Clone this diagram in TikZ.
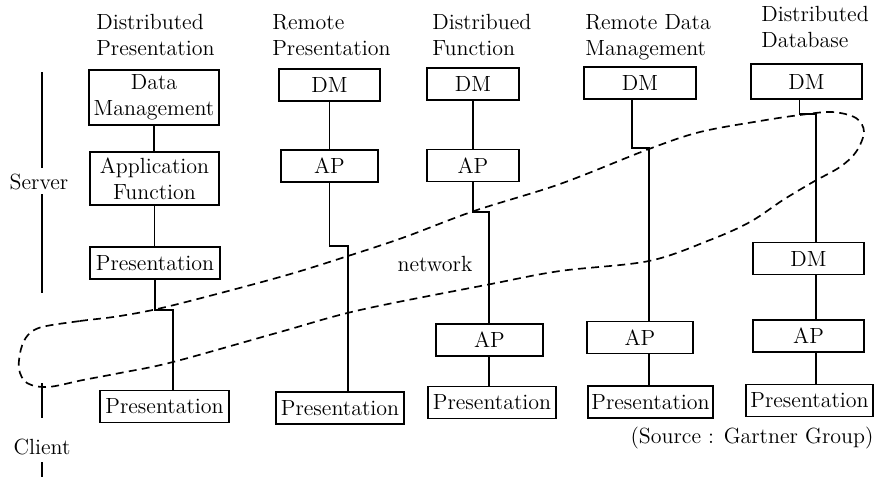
\documentclass[tikz,border=0pt]{standalone}
\usepackage{tikz}
\usetikzlibrary{calc}
\newcommand{\txtsize}{\fontsize{12.5}{15}\selectfont}
\tikzset{
	box/.style={draw, line width=0.95pt, minimum height=0.64cm, inner sep=1pt, font=\txtsize},
	link/.style={line width=0.85pt},
	net/.style={line width=0.95pt, dash pattern=on 4.5pt off 3pt},
	head/.style={anchor=north west, align=left, inner sep=0pt, font=\txtsize},
	lbl/.style={font=\txtsize}
}

\begin{document}
\begin{tikzpicture}[x=0.02cm, y=-0.02cm]
			%%%%% START %%%%%
			\useasboundingbox (0,0) rectangle (877,477);
			
			% headings
			\node[head] (h1) at (96,14) {Distributed\\Presentation};
			\node[head] (h2) at (272,14) {Remote\\Presentation};
			\node[head] (h3) at (432,14) {Distribued\\Function};
			\node[head] (h4) at (585,14) {Remote Data\\Management};
			\node[head] (h5) at (761,6) {Distributed\\Database};
			
			% distributed presentation
			\node[box, minimum width=2.6cm, minimum height=1.1cm, align=center] (dm1) at (154,97.5) {Data\\Management};
			\node[box, minimum width=2.58cm, minimum height=1.06cm, align=center] (af1) at (154.5,178.5) {Application\\Function};
			\node[box, minimum width=2.6cm] (pr1) at (155,263) {Presentation};
			\node[box, minimum width=2.58cm] (pc1) at (164.5,406.5) {Presentation};
			\coordinate (j1) at (173,310);
			\draw[link] (dm1.south) -- (dm1.south |- af1.north);
			\draw[link] (af1.south) -- (af1.south |- pr1.north);
			\draw[link] (pr1.south) |- (j1) -- (j1 |- pc1.north);
			
			% remote presentation
			\node[box, minimum width=2.02cm] (dm2) at (329.5,85) {DM};
			\node[box, minimum width=1.94cm] (ap2) at (329.5,166) {AP};
			\node[box, minimum width=2.56cm] (pc2) at (340,408) {Presentation};
			\coordinate (j2) at (348,246);
			\draw[link] (dm2.south) -- (ap2.north);
			\draw[link] (ap2.south) |- (j2) -- (j2 |- pc2.north);
			
			% distributed function
			\node[box, minimum width=1.84cm] (dm3) at (473,84) {DM};
			\node[box, minimum width=1.84cm] (ap3) at (473,165.5) {AP};
			\node[box, minimum width=2.14cm] (ac3) at (489.5,340) {AP};
			\node[box, minimum width=2.56cm] (pc3) at (492,402.5) {Presentation};
			\coordinate (j3) at (489,212);
			\draw[link] (dm3.south) -- (ap3.north);
			\draw[link] (ap3.south) |- (j3) -- (j3 |- ac3.north);
			\draw[link] (ac3.south -| j3) -- (j3 |- pc3.north);
			
			% remote data management
			\node[box, minimum width=2.24cm] (dm4) at (640,83) {DM};
			\node[box, minimum width=2.12cm] (ac4) at (640,337.5) {AP};
			\node[box, minimum width=2.5cm] (pc4) at (650.5,402) {Presentation};
			\coordinate (j4) at (649,148);
			\draw[link] ($(dm4.south)+(-8,0)$) |- (j4) -- (j4 |- ac4.north);
			\draw[link] (ac4.south -| j4) -- (j4 |- pc4.north);
			
			% distributed database
			\node[box, minimum width=2.22cm, minimum height=0.7cm] (dm5) at (806.5,81.5) {DM};
			\node[box, minimum width=2.22cm] (dl5) at (808.5,258.5) {DM};
			\node[box, minimum width=2.22cm] (ac5) at (808.5,336) {AP};
			\node[box, minimum width=2.54cm] (pc5) at (809.5,400.5) {Presentation};
			\coordinate (j5) at (816,114);
			\draw[link] ($(dm5.south)+(-7,0)$) |- (j5) -- (j5 |- dl5.north);
			\draw[link] (dl5.south -| j5) -- (j5 |- ac5.north);
			\draw[link] (ac5.south -| j5) -- (j5 |- pc5.north);
			
			% server / client
			\node[lbl] (srv) at (39,182) {Server};
			\node[lbl] (cli) at (42,447) {Client};
			\coordinate (s0) at (42,72);
			\coordinate (s1) at (42,168);
			\coordinate (s2) at (42,194);
			\coordinate (s3) at (42,293);
			\coordinate (c0) at (42,383);
			\coordinate (c1) at (42,418);
			\coordinate (c2) at (42,462);
			\coordinate (c3) at (42,477);
			\draw[link] (s0) -- (s1);
			\draw[link] (s2) -- (s3);
			\draw[link] (c0) -- (c1);
			\draw[link] (c2) -- (c3);
			
			% network
			\draw[net] plot[smooth cycle, tension=0.55] coordinates {
				(42,327) (80,321) (120,316) (170,306) (280,277) (348,256) (405,237)
				(474,211) (560,184) (649,149) (700,132) (760,121) (800,115) (832,112)
				(856,118) (864,132) (856,152) (840,167) (813,182) (783,200) (750,222)
				(710,240) (649,261) (560,271) (491,284) (360,310) (280,332) (173,362)
				(120,373) (83,380) (48,387) (27,383) (19,369) (21,349) (28,335)};
			\node[lbl] (net) at (435,264) {network};
			
			\node[lbl] (src) at (752,438) {(Source : Gartner Group)};
			%%%%% END %%%%%
\end{tikzpicture}
\end{document}
